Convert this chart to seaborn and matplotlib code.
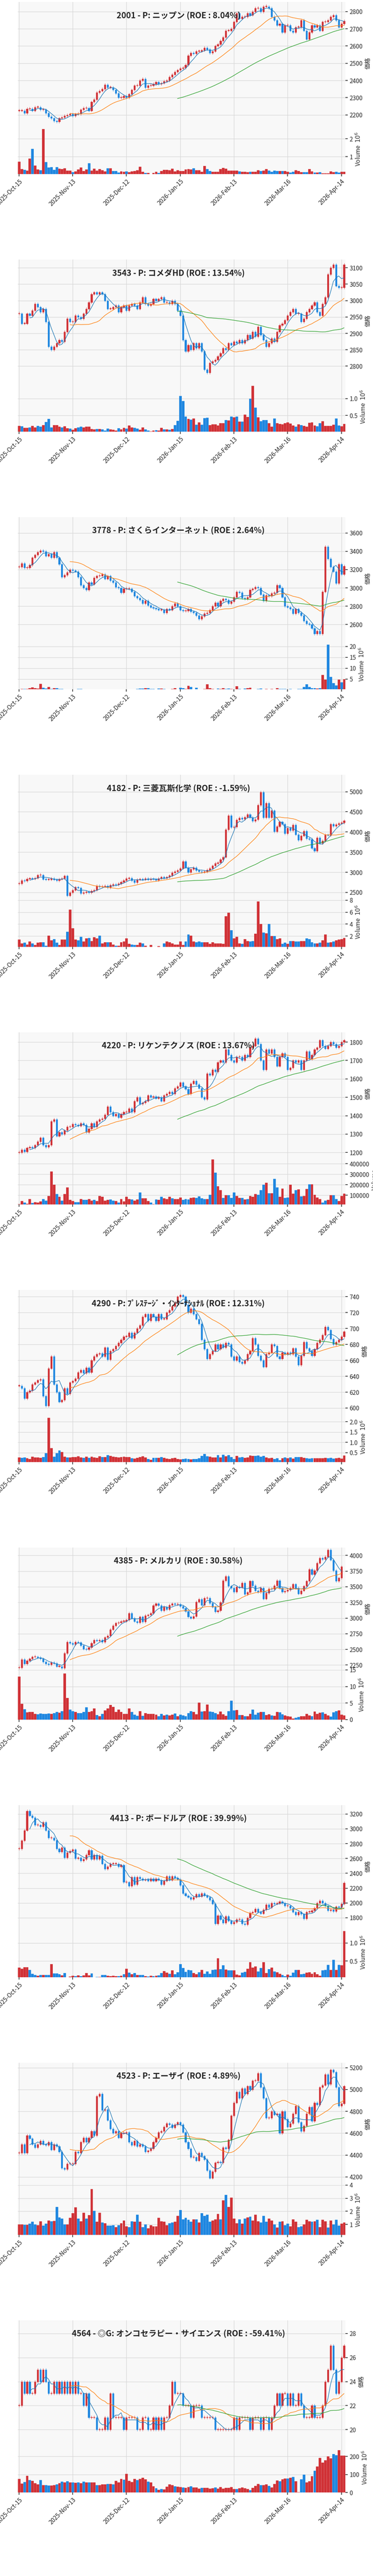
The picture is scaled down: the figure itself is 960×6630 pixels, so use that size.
import numpy as np
import pandas as pd
import seaborn as sns
import matplotlib
matplotlib.use('Agg')
import matplotlib.pyplot as plt
from matplotlib.ticker import MultipleLocator

sns.set_theme(style='whitegrid')
plt.rcParams['font.family'] = ['Noto Sans CJK JP', 'DejaVu Sans']

DATE_LABELS = ['2025-Oct-15', '2025-Nov-13', '2025-Dec-12', '2026-Jan-15',
               '2026-Feb-13', '2026-Mar-16', '2026-Apr-14']

titles = ['2001 - P: ニップン (ROE : 8.04%)', '3543 - P: コメダHD (ROE : 13.54%)',
          '3778 - P: さくらインターネット (ROE : 2.64%)', '4182 - P: 三菱瓦斯化学 (ROE : -1.59%)',
          '4220 - P: リケンテクノス (ROE : 13.67%)', '4290 - P: ﾌﾟﾚｽﾃｰｼﾞ・ｲﾝﾀｰﾅｼｮﾅﾙ (ROE : 12.31%)',
          '4385 - P: メルカリ (ROE : 30.58%)', '4413 - P: ボードルア (ROE : 39.99%)',
          '4523 - P: エーザイ (ROE : 4.89%)', '4564 - ◎G: オンコセラピー・サイエンス (ROE : -59.41%)']

close_2001 = [2225, 2225, 2210, 2235, 2235, 2225, 2245, 2245, 2230, 2230, 2210, 2190, 2180, 2165, 2160, 2180, 2185, 2195, 2200, 2205,
              2195, 2205, 2205, 2230, 2240, 2240, 2225, 2275, 2290, 2330, 2340, 2350, 2375, 2360, 2360, 2345, 2325, 2300, 2300, 2310,
              2300, 2320, 2345, 2370, 2370, 2400, 2410, 2360, 2370, 2370, 2380, 2390, 2380, 2385, 2395, 2400, 2420, 2435, 2450, 2460,
              2470, 2475, 2490, 2545, 2560, 2555, 2570, 2570, 2575, 2590, 2580, 2560, 2570, 2600, 2610, 2630, 2650, 2690, 2690, 2700,
              2740, 2790, 2760, 2770, 2770, 2790, 2780, 2800, 2820, 2820, 2800, 2830, 2830, 2820, 2770, 2750, 2720, 2730, 2680, 2720,
              2720, 2690, 2680, 2710, 2710, 2750, 2690, 2640, 2680, 2720, 2710, 2720, 2690, 2740, 2740, 2750, 2770, 2780, 2750, 2710,
              2730, 2745]
vol_2001 = [0.72, 0.32, 0.28, 0.23, 0.9, 1.45, 0.52, 0.3, 0.26, 2.55, 0.7, 0.4, 0.42, 0.28, 0.43, 0.34, 0.33, 0.37, 0.24, 0.23,
            0.14, 0.2, 0.3, 0.4, 0.21, 0.29, 0.65, 0.24, 0.34, 0.24, 0.31, 0.26, 0.2, 0.36, 0.36, 0.22, 0.21, 0.13, 0.2, 0.17,
            0.2, 0.15, 0.2, 0.21, 0.26, 0.44, 0.17, 0.1, 0.11, 0.05, 0.1, 0.16, 0.11, 0.22, 0.27, 0.27, 0.26, 0.34, 0.2, 0.25,
            0.21, 0.22, 0.3, 0.32, 0.3, 0.36, 0.26, 0.25, 0.17, 0.49, 0.32, 0.22, 0.17, 0.17, 0.17, 0.32, 0.38, 0.35, 0.24, 0.24,
            0.23, 0.24, 0.2, 0.16, 0.16, 0.15, 0.18, 0.18, 0.16, 0.26, 0.21, 0.23, 0.31, 0.24, 0.18, 0.24, 0.22, 0.22, 0.21, 0.21,
            0.16, 0.12, 0.16, 0.25, 0.21, 0.15, 0.14, 0.14, 0.31, 0.2, 0.12, 0.12, 0.15, 0.08, 0.08, 0.09, 0.19, 0.15, 0.16, 0.13,
            0.18, 0.18]

close_3543 = [2960, 2930, 2930, 2960, 2955, 2970, 2990, 2980, 2965, 2975, 2935, 2860, 2850, 2860, 2870, 2880, 2875, 2905, 2945, 2935,
              2935, 2955, 2950, 2945, 2960, 2975, 2995, 3020, 3025, 3020, 3025, 3020, 3000, 2975, 2975, 2980, 2985, 2965, 2980, 2985,
              2970, 2985, 2990, 2985, 2975, 2995, 3010, 2990, 2985, 2990, 3005, 3000, 3005, 3010, 2995, 2995, 2990, 3000, 2990, 2970,
              2955, 2880, 2845, 2865, 2850, 2870, 2855, 2870, 2845, 2790, 2780, 2810, 2815, 2820, 2830, 2840, 2855, 2850, 2870, 2865,
              2875, 2870, 2880, 2870, 2880, 2895, 2885, 2905, 2890, 2920, 2895, 2880, 2860, 2870, 2885, 2875, 2905, 2925, 2930, 2940,
              2955, 2965, 2975, 2960, 2960, 2935, 2945, 2965, 2975, 2985, 2995, 2965, 2955, 2990, 3010, 3080, 3100, 3110, 3045, 3040,
              3040, 3110]
vol_3543 = [.19, .18, .14, .13, .15, .19, .15, .19, .17, .21, .31, .4, .15, .21, .21, .17, .15, .18, .12, .11,
            .08, .12, .15, .17, .15, .17, .17, .1, .09, .1, .1, .09, .05, .11, .09, .08, .06, .12, .09, .13,
            .11, .2, .15, .13, .11, .08, .15, .09, .06, .03, .05, .07, .05, .14, .09, .09, .08, .1, .22, .34,
            1.08, .93, .47, .4, .38, .41, .23, .3, .23, .42, .43, .21, .24, .24, .2, .27, .27, .36, .35, .47,
            .45, .47, .32, .32, .52, .46, 1.0, 1.38, .73, .44, .33, .37, .37, .27, .17, .41, .27, .25, .24, .27,
            .29, .26, .2, .17, .24, .22, .19, .17, .28, .3, .2, .18, .27, .33, .19, .19, .19, .23, .41, .2,
            .18, .25]

close_3778 = [3230, 3270, 3220, 3220, 3250, 3330, 3360, 3390, 3410, 3400, 3350, 3370, 3330, 3390, 3330, 3260, 3120, 3140, 3170, 3200,
              3190, 3180, 3120, 3030, 3000, 2980, 3060, 3040, 3110, 3130, 3130, 3150, 3100, 3130, 3080, 3060, 3010, 3000, 2950, 2990,
              2990, 2990, 2960, 2910, 2890, 2870, 2830, 2860, 2810, 2790, 2780, 2770, 2760, 2760, 2730, 2770, 2760, 2800, 2830, 2800,
              2760, 2750, 2750, 2770, 2740, 2730, 2700, 2660, 2690, 2720, 2730, 2760, 2800, 2840, 2800, 2860, 2880, 2870, 2830, 2850,
              2900, 2960, 2950, 2890, 2880, 2900, 2980, 2990, 3010, 3000, 2930, 2860, 2920, 2910, 2940, 2950, 3030, 3000, 2900, 2800,
              2790, 2770, 2720, 2770, 2730, 2700, 2640, 2610, 2600, 2560, 2500, 2530, 2500, 2960, 3450, 3320, 3230, 3180, 3050, 3260,
              3150, 3240]
vol_3778 = [.3, .5, .5, .4, .7, 1.2, .8, .6, 2.7, .9, .6, 1.3, .5, .7, .7, .5, .4, .2, .3, .2,
            .3, .3, .4, .4, .3, .3, .2, .2, .1, .1, .2, .3, .2, .2, .2, .2, .1, .1, .2, .3,
            .2, .2, .3, .3, .4, .6, .6, .8, .7, .5, .4, .3, .6, .6, .4, .3, .3, .4, .7, .3,
            .9, .7, .4, 1.9, 1.3, .3, .9, .2, .2, .5, 2.6, .7, .5, .2, .6, .5, .7, .4, .6, .4,
            .3, 1.7, .5, .3, .6, .7, .9, .3, .3, .5, .6, .3, .4, .3, .4, .3, .7, .5, .4, .4,
            .3, .4, .3, .3, .4, .5, 1.3, 2.6, 1.3, .8, .7, .6, .7, 6.9, 4.7, 20.8, 6.0, 3.2, 2.0, 4.8,
            3.4, 4.9]

close_4182 = [2720, 2800, 2790, 2840, 2850, 2840, 2860, 2930, 2930, 2830, 2820, 2820, 2850, 2820, 2800, 2830, 2850, 2910, 2420, 2500,
              2560, 2630, 2610, 2480, 2500, 2520, 2500, 2540, 2560, 2660, 2640, 2650, 2660, 2620, 2680, 2700, 2690, 2720, 2760, 2800,
              2850, 2860, 2800, 2750, 2820, 2830, 2820, 2850, 2820, 2840, 2830, 2810, 2850, 2880, 2860, 2880, 2920, 2990, 3020, 3050,
              3100, 3270, 3120, 3000, 3080, 3120, 3050, 3020, 3010, 3020, 3060, 3100, 3160, 3220, 3240, 3320, 3380, 4060, 4410, 4120,
              4130, 4300, 4350, 4320, 4370, 4440, 4360, 4270, 4310, 4670, 4990, 4360, 4720, 4360, 4530, 4010, 4140, 4250, 4200, 3960,
              4100, 4040, 4180, 3940, 3800, 3910, 4020, 3840, 3820, 3600, 3530, 3860, 3720, 3780, 3930, 3920, 4200, 4150, 4190, 4220,
              4230, 4280]
vol_4182 = [1.4, .8, .9, .6, 1.1, .8, .5, .9, 1.0, 1.0, .4, 2.1, 1.3, 1.5, .9, .5, 1.4, 1.4, 2.7, 6.4,
            3.3, 1.4, 1.3, 1.9, 1.1, 1.6, 1.7, 1.2, 1.8, 1.6, 2.1, .8, 1.0, 1.0, 1.0, .6, .4, .4, 1.0, 1.1,
            1.6, .7, .6, .5, .5, .9, .8, .4, .2, .5, .2, .2, .3, .2, .8, 1.1, 1.0, .8, .6, .6,
            1.1, .5, 1.1, 2.3, 2.1, 1.1, 1.0, 1.1, 1.0, 1.0, 1.0, .7, 1.0, .8, .8, .8, .7, 5.3, 5.9, 3.0,
            1.6, 1.9, .8, .7, 1.5, 1.2, 1.1, 1.2, 2.4, 7.8, 4.0, 2.6, 2.5, 4.0, 2.0, 2.0, 1.5, 1.6, .7, .9,
            .7, 1.2, 1.2, 1.1, 1.1, 1.2, 1.2, 1.6, 1.5, 1.0, .8, .8, .9, 1.3, 2.3, .9, 1.0, 1.1, 1.3, 1.4,
            1.5, 1.7]

close_4220 = [1200, 1215, 1205, 1225, 1230, 1225, 1240, 1260, 1280, 1240, 1230, 1240, 1370, 1380, 1290, 1310, 1300, 1320, 1340, 1340,
              1355, 1350, 1345, 1360, 1350, 1310, 1330, 1360, 1340, 1370, 1380, 1385, 1405, 1450, 1420, 1400, 1410, 1390, 1410, 1420,
              1420, 1440, 1420, 1480, 1500, 1465, 1470, 1480, 1510, 1500, 1505, 1495, 1500, 1480, 1510, 1520, 1530, 1520, 1550, 1560,
              1580, 1560, 1545, 1520, 1575, 1590, 1570, 1550, 1500, 1490, 1630, 1620, 1650, 1640, 1690, 1700, 1690, 1760, 1730, 1700,
              1690, 1720, 1720, 1700, 1730, 1720, 1770, 1780, 1820, 1790, 1700, 1650, 1760, 1740, 1760, 1720, 1670, 1720, 1740, 1720,
              1650, 1660, 1700, 1690, 1700, 1650, 1700, 1750, 1710, 1730, 1760, 1770, 1810, 1780, 1765, 1780, 1800, 1790, 1770, 1780,
              1800, 1810]
vol_4220 = [15000, 45000, 30000, 20000, 65000, 25000, 35000, 30000, 40000, 65000, 50000, 95000, 325000, 200000, 110000, 85000, 50000, 110000, 175000, 55000,
            45000, 35000, 35000, 65000, 55000, 55000, 65000, 50000, 55000, 45000, 95000, 85000, 50000, 55000, 60000, 50000, 45000, 30000, 65000, 40000,
            85000, 65000, 60000, 50000, 60000, 125000, 70000, 70000, 45000, 30000, 15000, 60000, 55000, 85000, 70000, 65000, 85000, 70000, 65000, 65000,
            80000, 55000, 65000, 60000, 75000, 80000, 75000, 90000, 70000, 65000, 65000, 105000, 440000, 315000, 185000, 150000, 75000, 100000, 100000, 75000,
            125000, 95000, 75000, 75000, 60000, 65000, 95000, 85000, 110000, 105000, 150000, 200000, 220000, 120000, 120000, 255000, 175000, 85000, 165000, 75000,
            80000, 200000, 115000, 150000, 155000, 90000, 95000, 160000, 205000, 205000, 105000, 80000, 65000, 30000, 50000, 55000, 100000, 100000, 65000, 45000,
            95000, 115000]

close_4290 = [628, 625, 612, 620, 622, 630, 632, 635, 636, 615, 603, 650, 665, 630, 620, 608, 610, 625, 618, 632,
              634, 637, 645, 648, 644, 651, 645, 660, 665, 668, 669, 665, 676, 661, 672, 674, 678, 682, 686, 690,
              690, 695, 688, 695, 700, 704, 715, 718, 710, 718, 715, 710, 718, 712, 712, 720, 723, 728, 733, 740,
              742, 740, 730, 720, 725, 718, 712, 706, 686, 674, 662, 668, 672, 680, 674, 680, 676, 682, 680, 665,
              660, 665, 658, 656, 660, 668, 672, 688, 680, 666, 660, 652, 668, 670, 680, 678, 665, 662, 670, 668,
              670, 668, 675, 665, 654, 666, 683, 675, 672, 666, 674, 682, 686, 692, 702, 698, 687, 680, 683, 686,
              690, 696]
vol_4290 = [.27, .25, .26, .22, .2, .3, .26, .26, .24, .28, .47, 2.2, .73, .3, .48, .6, .53, .3, .27, .27,
            .28, .29, .33, .26, .24, .3, .24, .3, .26, .24, .32, .29, .29, .38, .35, .3, .29, .27, .28, .3,
            .29, .28, .22, .21, .25, .29, .32, .27, .2, .16, .24, .24, .24, .29, .25, .21, .19, .22, .24, .2,
            .18, .2, .21, .2, .18, .2, .19, .23, .35, .43, .33, .3, .26, .26, .38, .26, .39, .32, .38, .28,
            .19, .35, .26, .29, .25, .26, .36, .34, .34, .36, .3, .34, .27, .22, .24, .2, .23, .14, .23, .26,
            .23, .27, .21, .28, .29, .29, .25, .23, .21, .23, .22, .23, .23, .22, .25, .22, .25, .21, .22, .25,
            .21, .36]

close_4385 = [2210, 2340, 2270, 2320, 2350, 2380, 2380, 2370, 2350, 2300, 2270, 2260, 2290, 2280, 2230, 2230, 2200, 2440, 2620, 2600,
              2580, 2620, 2610, 2560, 2510, 2500, 2530, 2600, 2650, 2640, 2650, 2620, 2690, 2720, 2820, 2880, 2920, 2930, 2950, 2950,
              2970, 3080, 3000, 2950, 2930, 3020, 2940, 3040, 3050, 3080, 3200, 3230, 3200, 3120, 3180, 3140, 3210, 3230, 3220, 3220,
              3190, 3160, 3110, 3020, 3000, 3030, 3260, 3300, 3210, 3320, 3320, 3240, 3180, 3100, 3120, 3250, 3600, 3670, 3510, 3480,
              3420, 3500, 3490, 3560, 3380, 3410, 3590, 3520, 3440, 3420, 3480, 3310, 3400, 3470, 3460, 3520, 3600, 3480, 3420, 3430,
              3450, 3480, 3540, 3480, 3390, 3440, 3510, 3590, 3780, 3700, 3760, 3880, 3960, 3940, 3980, 4090, 3930, 3760, 3590, 3640,
              3820]
vol_4385 = [13, 4.8, 3.2, 2.2, 2.4, 2.3, 1.7, 1.6, 1.9, 1.8, 1.8, 1.9, 1.8, 2.0, 2.3, 2.1, 2.6, 14, 6.6, 3.1,
            2.6, 2.4, 2.0, 2.0, 2.3, 3.8, 2.3, 2.6, 3.4, 1.4, 1.1, 1.7, 2.8, 3.4, 4.5, 3.9, 2.4, 3.0, 2.3, 1.8,
            1.8, 3.4, 2.4, 1.5, 1.2, 2.6, 1.2, 2.0, 1.8, 1.8, 1.8, 1.5, 1.1, 1.7, 1.3, 1.5, 1.3, 1.5, 1.9, 1.1,
            1.5, 1.3, 1.1, 2.0, 2.6, 2.3, 1.6, 5.2, 2.5, 2.6, 4.6, 2.5, 2.3, 2.0, 1.6, 2.5, 1.6, 1.2, 2.6, 5.8,
            2.8, 2.9, 1.4, 1.4, 1.1, 1.0, 1.7, 3.1, 1.5, 2.1, 2.3, 2.4, 1.4, 1.6, 1.3, 1.2, 2.3, 2.2, 1.6, 1.3,
            1.1, .9, .4, .6, .8, 1.1, 1.1, 1.7, 1.3, 1.1, 2.5, 1.7, 2.1, 2.2, 1.7, 1.3, .9, 2.2, 2.6, 2.8,
            1.5, 1.3]

close_4413 = [2730, 2840, 2980, 3240, 3180, 3150, 3050, 3050, 3030, 3090, 2980, 2880, 2880, 2850, 2730, 2690, 2750, 2610, 2680, 2700,
              2720, 2600, 2610, 2570, 2590, 2650, 2710, 2590, 2650, 2590, 2640, 2530, 2460, 2490, 2530, 2530, 2530, 2490, 2510, 2280,
              2280, 2230, 2350, 2250, 2350, 2330, 2310, 2320, 2300, 2330, 2300, 2330, 2310, 2250, 2300, 2360, 2310, 2360, 2340, 2320,
              2240, 2130, 2100, 2080, 2050, 2080, 2120, 2090, 2130, 2100, 2080, 2040, 1990, 1720, 1830, 1780, 1730, 1820, 1760, 1720,
              1740, 1780, 1780, 1720, 1710, 1800, 1870, 1880, 1920, 1880, 1860, 1910, 1980, 1940, 2000, 1990, 2000, 2020, 2000, 1960,
              1960, 1930, 1880, 1840, 1880, 1850, 1790, 1880, 1880, 1900, 1930, 2000, 2030, 2000, 1960, 1900, 1910, 1890, 1950, 1940,
              1990, 2270]
vol_4413 = [.32, .29, .33, .33, .26, .15, .11, .09, .11, .11, .11, .11, .42, .16, .16, .14, .1, .17, .05, .07,
            .09, .08, .1, .08, .1, .17, .1, .16, .05, .06, .06, .11, .11, .09, .08, .09, .08, .08, .09, .14,
            .29, .18, .14, .17, .12, .12, .11, .08, .07, .09, .08, .09, .1, .17, .22, .18, .15, .24, .14, .19,
            .42, .31, .2, .26, .24, .17, .14, .19, .26, .15, .21, .15, .25, .27, .58, .28, .38, .27, .24, .24,
            .24, .13, .1, .18, .2, .29, .47, .32, .35, .21, .31, .47, .17, .28, .32, .21, .19, .15, .12, .08,
            .13, .09, .18, .26, .26, .14, .15, .18, .19, .15, .19, .14, .09, .24, .26, .4, .26, .53, .26, .4,
            .38, 1.33]

close_4523 = [4420, 4500, 4420, 4580, 4550, 4500, 4470, 4500, 4530, 4500, 4490, 4520, 4450, 4500, 4480, 4430, 4280, 4270, 4320, 4320,
              4320, 4430, 4420, 4520, 4560, 4520, 4560, 4620, 4580, 4940, 4960, 4810, 4820, 4720, 4640, 4600, 4620, 4560, 4600, 4600,
              4610, 4520, 4490, 4530, 4480, 4500, 4480, 4430, 4440, 4460, 4520, 4560, 4610, 4620, 4660, 4690, 4680, 4650, 4680, 4700,
              4680, 4610, 4520, 4460, 4380, 4380, 4350, 4420, 4390, 4360, 4260, 4190, 4250, 4330, 4340, 4330, 4470, 4460, 4540, 4760,
              4880, 4980, 4920, 5010, 4960, 5030, 5000, 5080, 5080, 5150, 5020, 4920, 4740, 4740, 4800, 4770, 4780, 4600, 4800, 4730,
              4660, 4690, 4780, 4850, 4700, 4620, 4670, 4780, 4840, 4710, 4880, 4860, 5020, 5040, 5140, 5050, 5180, 5160, 5020, 4850,
              4870, 5030]
vol_4523 = [1.0, 1.0, .96, .96, 1.05, 1.2, 1.0, .93, 1.25, .9, 1.05, 1.3, 1.25, 1.28, 2.35, 1.55, 1.45, 1.0, 1.0, 1.5,
            1.85, 2.3, 1.45, 1.25, 1.9, 1.45, 1.7, 3.7, 2.05, 1.2, 1.9, 1.15, 1.1, .9, .9, .95, .8, .95, 1.1, 1.3,
            .85, .8, 1.25, 1.2, 1.75, 1.2, .8, 1.0, .7, .95, .85, .85, 1.5, 1.25, 1.2, .95, 1.1, 1.15, 1.2, 1.65,
            2.1, 1.4, 1.5, 1.35, 1.2, 1.4, 1.4, 1.15, 1.85, 1.65, 1.75, 1.2, 1.3, 1.4, 1.8, 1.4, 2.85, 3.25, 2.35, 3.05,
            1.45, 1.1, 1.4, 1.05, 1.45, 1.55, 1.6, 1.3, 1.75, 1.25, 1.15, 1.65, 1.2, 1.45, 1.3, 1.0, .75, 1.2, 1.25, .95,
            1.05, .85, 1.4, 1.2, .8, .85, 1.0, 1.35, 1.25, 1.2, 1.25, 1.35, .8, 1.35, 1.25, .75, 1.3, 1.0, 1.35, .9,
            1.05, 1.15]

close_4564 = [22, 24, 23, 24, 23, 23, 24, 25, 24, 25, 24, 23, 23, 24, 23, 24, 23, 24, 23, 24,
              23, 24, 23, 23, 22, 23, 21, 21, 21, 20, 20, 20, 21, 20, 23, 21, 21, 21, 21, 20,
              21, 21, 21, 21, 20, 20, 21, 21, 20, 20, 21, 20, 21, 20, 21, 21, 22, 24, 23, 23,
              23, 22, 22, 22, 21, 22, 22, 22, 21, 21, 21, 21, 21, 20, 20, 20, 20, 20, 20, 20,
              21, 20, 21, 21, 21, 21, 20, 21, 21, 21, 20, 21, 21, 20, 21, 22, 23, 22, 23, 23,
              22, 23, 22, 22, 23, 22, 21, 21, 21, 22, 21, 21, 21, 22, 24, 25, 27, 25, 23, 24,
              26, 27]
vol_4564 = [75, 50, 58, 92, 68, 65, 52, 45, 70, 40, 42, 38, 38, 40, 46, 52, 60, 57, 62, 56,
            55, 53, 56, 52, 60, 57, 56, 55, 56, 40, 42, 45, 45, 48, 47, 45, 64, 57, 75, 72,
            103, 64, 58, 75, 70, 75, 82, 74, 60, 56, 35, 24, 16, 20, 18, 32, 46, 40, 34, 32,
            31, 28, 26, 30, 34, 28, 28, 22, 25, 25, 26, 22, 24, 28, 21, 30, 22, 26, 26, 30,
            20, 20, 24, 28, 24, 20, 13, 25, 37, 47, 42, 42, 45, 36, 28, 48, 67, 63, 73, 77,
            77, 82, 87, 63, 3, 73, 100, 57, 62, 91, 120, 145, 192, 165, 178, 200, 189, 213, 207, 234,
            204, 205]

closes = [close_2001, close_3543, close_3778, close_4182, close_4220, close_4290, close_4385, close_4413, close_4523, close_4564]
volumes = [vol_2001, vol_3543, vol_3778, vol_4182, vol_4220, vol_4290, vol_4385, vol_4413, vol_4523, vol_4564]

price_lims = [(2145, 2856), (2752, 3125), (2436, 3773), (2383, 5421), (1188, 1853),
              (594.6, 748.5), (2172, 4126), (1669, 3319), (4125, 5245), (18.9, 29.1)]
price_steps = [100, 50, 200, 500, 100, 20, 250, 200, 200, 2]
vol_lims = [(0.04, 2.8), (0.02, 1.49), (0.25, 23.2), (0.2, 8.5), (12000, 485000),
            (0.04, 2.46), (0, 15), (0.05, 1.43), (0.2, 4.0), (0, 276)]
vol_steps = [1, 0.5, 5, 2, 100000, 0.5, 5, 0.5, 1, 100]

UP = '#d03035'
DOWN = '#1e86e0'
W, H = 960, 6630
PANEL = 663
LEFT, RIGHT = 46, 889

fig = plt.figure(figsize=(W / 100, H / 100), dpi=100)


def frac(top, bottom):
    return [LEFT / W, 1 - bottom / H, (RIGHT - LEFT) / W, (bottom - top) / H]


for i in range(10):
    y0 = PANEL * i
    axp = fig.add_axes(frac(y0 + 5, y0 + 320))
    axv = fig.add_axes(frac(y0 + 320, y0 + 448), sharex=axp)
    c = np.array(closes[i], dtype=float)
    x = np.arange(len(c))
    o = np.concatenate([[c[0]], c[:-1]])
    up = c >= o
    cols = np.where(up, UP, DOWN)
    rng = price_lims[i][1] - price_lims[i][0]
    body = np.maximum(np.abs(c - o), rng * 0.004)
    lo_b = np.minimum(o, c)
    axp.vlines(x, lo_b - rng * 0.012, lo_b + body + rng * 0.012, colors=cols, lw=0.8, alpha=0.8, zorder=2)
    axp.bar(x, body, bottom=lo_b, width=0.6, color=cols, edgecolor=cols, lw=0.5, zorder=3)

    df = pd.DataFrame({'x': x, 'c': c})
    for win, col in [(5, 'tab:blue'), (20, 'tab:orange'), (60, 'tab:green')]:
        df['ma'] = df['c'].rolling(win).mean()
        sns.lineplot(data=df.dropna(), x='x', y='ma', ax=axp, color=col, lw=1, zorder=4)

    v = np.array(volumes[i], dtype=float)
    vx = np.arange(len(v))
    vcols = [cols[min(k, len(cols) - 1)] for k in vx]
    axv.bar(vx, v, width=0.85, color=vcols, edgecolor=vcols, lw=0.5)

    for ax in (axp, axv):
        ax.set_facecolor('#f8f8f8')
        ax.yaxis.tick_right()
        ax.yaxis.set_label_position('right')
        ax.tick_params(axis='y', direction='out', length=4, labelsize=11, right=True)
        ax.grid(True, color='#d8d8d8', lw=1)
        for s in ax.spines.values():
            s.set_visible(False)
    axp.set_ylim(*price_lims[i])
    axp.yaxis.set_major_locator(MultipleLocator(price_steps[i]))
    axp.set_ylabel('価格', fontsize=11)
    axp.set_xlabel('')
    axp.tick_params(axis='x', labelbottom=False, length=0)
    axv.set_ylim(*vol_lims[i])
    axv.yaxis.set_major_locator(MultipleLocator(vol_steps[i]))
    axv.set_ylabel('Volume' if i == 4 else 'Volume  $10^6$', fontsize=11)
    axv.set_xlim(-0.4, 121.5)
    axv.set_xticks(range(0, 121, 20))
    axv.set_xticklabels(DATE_LABELS, rotation=45, ha='right', rotation_mode='anchor', fontsize=11)
    axv.tick_params(axis='x', bottom=True, length=4)
    axp.text(0.49, 0.89, titles[i], transform=axp.transAxes, ha='center', va='center',
             fontsize=15, fontweight='bold', zorder=6)

fig.savefig('out.png', dpi=100)
